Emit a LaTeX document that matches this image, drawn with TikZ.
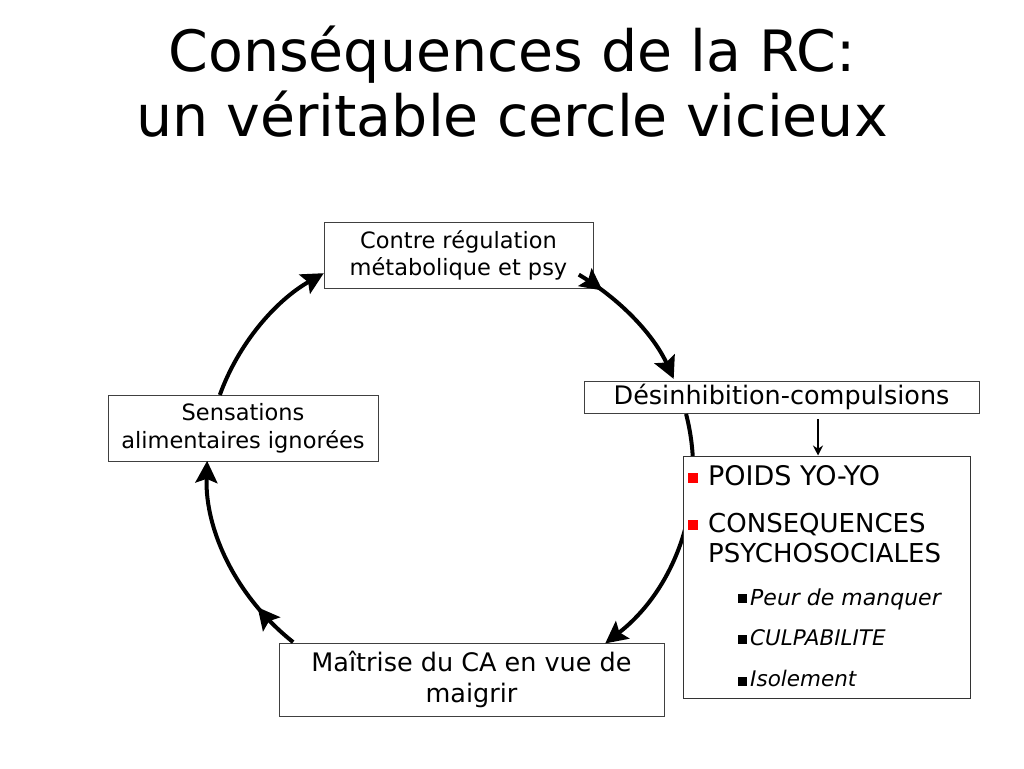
\documentclass[tikz,border=0pt]{standalone}
\usepackage{fontspec}
\setmainfont{DejaVu Sans}
\usetikzlibrary{arrows.meta,calc,decorations.markings}
\begin{document}
\begin{tikzpicture}[x=1pt,y=-1pt,
  box/.style={draw=black!75, line width=1pt, fill=white, align=center, inner sep=0pt},
  cyc/.style={line width=4pt, -{Stealth[length=22pt,width=22pt,inset=4pt]}},
  midtip/.style={postaction={decorate, decoration={markings,
     mark=at position #1 with {\arrow{Stealth[length=22pt,width=22pt,inset=4pt]}}}}},
  ttl/.style={anchor=base, inner sep=0pt, font=\fontsize{57}{65}\selectfont},
  lvla/.style={anchor=base west, inner sep=0pt, font=\fontsize{26}{30}\selectfont},
  lvlb/.style={anchor=base west, inner sep=0pt, font=\fontsize{21.5}{25}\selectfont\itshape}
]
\useasboundingbox[fill=white] (0,0) rectangle (1024,768);

% title
\node[ttl] (t1) at (512,71) {Conséquences de la RC:};
\node[ttl] (t2) at (512,136) {un véritable cercle vicieux};

% boxes of the cycle
\node[box, minimum width=269pt, minimum height=66pt, font=\fontsize{22.5}{27}\selectfont]
  (top) at (458.5,255) {Contre régulation\\métabolique et psy};
\node[box, minimum width=270pt, minimum height=66pt, font=\fontsize{22.5}{28}\selectfont]
  (left) at (243,428) {Sensations\\alimentaires ignorées};
\node[box, minimum width=395pt, minimum height=32pt, font=\fontsize{25.5}{30}\selectfont]
  (des) at (781.5,397) {Désinhibition-compulsions};
\node[box, minimum width=385pt, minimum height=73pt, font=\fontsize{25.5}{31}\selectfont]
  (mai) at (471.5,679.5) {Maîtrise du CA en vue de\\maigrir};

% cycle arcs
\coordinate (O) at (450,468);
\coordinate (a1) at ($(O)+(198.7:243 and 228)$);
\coordinate (a2) at ($(O)+(302:243 and 228)$);
\coordinate (a3) at ($(O)+(-13.7:243 and 228)$);
\coordinate (a4) at ($(O)+(130.2:243 and 228)$);
\draw[cyc] (a1) arc[start angle=198.7, end angle=238.7, x radius=243, y radius=228];
\draw[cyc, midtip=0.2] (a2) arc[start angle=302, end angle=337, x radius=243, y radius=228];
\draw[cyc] (a3) arc[start angle=-13.7, end angle=50.3, x radius=243, y radius=228];
\draw[cyc, midtip=0.24] (a4) arc[start angle=130.2, end angle=181.8, x radius=243, y radius=228];

% consequences box
\node[box, draw=black!80, minimum width=287pt, minimum height=242pt] (res) at (826.5,577) {};
\coordinate (d1) at (818,419);
\draw[line width=2pt, -{Stealth[length=10pt,width=10pt]}] (d1) -- (d1 |- res.north);

\fill[red] (688,473) rectangle (698,483);
\fill[red] (688,520) rectangle (698,530);
\node[lvla, font=\fontsize{27}{30}\selectfont] (p1) at (708,485) {POIDS YO-YO};
\node[lvla] (p2) at (708,532) {CONSEQUENCES};
\node[lvla] (p3) at (708,562) {PSYCHOSOCIALES};
\fill[black] (738,594) rectangle (747,603);
\fill[black] (738,635) rectangle (747,644);
\fill[black] (738,677) rectangle (747,686);
\node[lvlb, font=\fontsize{22}{25}\selectfont\itshape] (s1) at (750,605) {Peur de manquer};
\node[lvlb] (s2) at (750,645) {CULPABILITE};
\node[lvlb] (s3) at (750,686) {Isolement};
\end{tikzpicture}
\end{document}
